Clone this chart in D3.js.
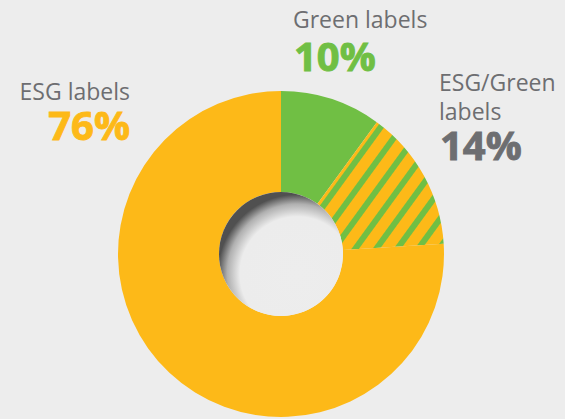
<!DOCTYPE html>
<meta charset="utf-8">
<body>
<style>
body { margin: 0; background: #ededed; }
svg { display: block; }
.name { font-family: "Open Sans", sans-serif; font-size: 23px; fill: #6d6e71; }
.pct { font-family: "Open Sans", sans-serif; font-size: 40px; font-weight: 700; stroke-width: 0.9px; }
</style>
<script src="https://d3js.org/d3.v7.min.js"></script>
<script>

// data
var categories = ["Green labels", "ESG/Green labels", "ESG labels"];
var shares = [10, 14, 76];
var pctColors = ["#70bf44", "#6d6e71", "#fdb918"];

var width = 565, height = 419;
var cx = 281, cy = 254, outerR = 163, innerR = 62;

var svg = d3.select("body").append("svg")
    .attr("width", width)
    .attr("height", height);

svg.append("rect").attr("width", width).attr("height", height).attr("fill", "#ededed");

var defs = svg.append("defs");

// stripes for the mixed slice
var pat = defs.append("pattern")
    .attr("id", "hatch")
    .attr("patternUnits", "userSpaceOnUse")
    .attr("width", 17).attr("height", 17)
    .attr("patternTransform", "rotate(36)");
pat.append("rect").attr("width", 17).attr("height", 17).attr("fill", "#fdb918");
pat.append("rect").attr("x", 3).attr("width", 6).attr("height", 17).attr("fill", "#70bf44");

// shading inside the hole
var grad = defs.append("radialGradient")
    .attr("id", "holeShade")
    .attr("cx", 0.63).attr("cy", 0.66).attr("r", 0.64);
grad.append("stop").attr("offset", 0).attr("stop-color", "#ededed");
grad.append("stop").attr("offset", 0.72).attr("stop-color", "#ececec");
grad.append("stop").attr("offset", 0.88).attr("stop-color", "#b0b0b0");
grad.append("stop").attr("offset", 1).attr("stop-color", "#505050");

var fills = ["#70bf44", "url(#hatch)", "#fdb918"];

var pie = d3.pie().sort(null).value(function(d) { return d; });
var arc = d3.arc().innerRadius(innerR).outerRadius(outerR);

var g = svg.append("g").attr("transform", "translate(" + cx + "," + cy + ")");

g.selectAll("path")
  .data(pie(shares))
  .enter().append("path")
    .attr("d", arc)
    .attr("fill", function(d, i) { return fills[i]; });

g.append("circle")
    .attr("r", innerR)
    .attr("fill", "url(#holeShade)");

// labels
var labelPos = [
  { x: 293, y: 28, anchor: "start", lines: ["Green labels"], py: 71 },
  { x: 439, y: 91, anchor: "start", lines: ["ESG/Green", "labels"], py: 160 },
  { x: 130, y: 100, anchor: "end", lines: ["ESG labels"], py: 140 }
];

categories.forEach(function(c, i) {
  var p = labelPos[i];
  p.lines.forEach(function(line, j) {
    svg.append("text")
      .attr("class", "name")
      .attr("x", p.x).attr("y", p.y + j * 29)
      .attr("text-anchor", p.anchor)
      .text(line);
  });
  svg.append("text")
    .attr("class", "pct")
    .attr("x", p.anchor === "end" ? p.x : p.x + 1).attr("y", p.py)
    .attr("text-anchor", p.anchor)
    .attr("fill", pctColors[i])
    .attr("stroke", pctColors[i])
    .text(shares[i] + "%");
});

</script>
</body>
